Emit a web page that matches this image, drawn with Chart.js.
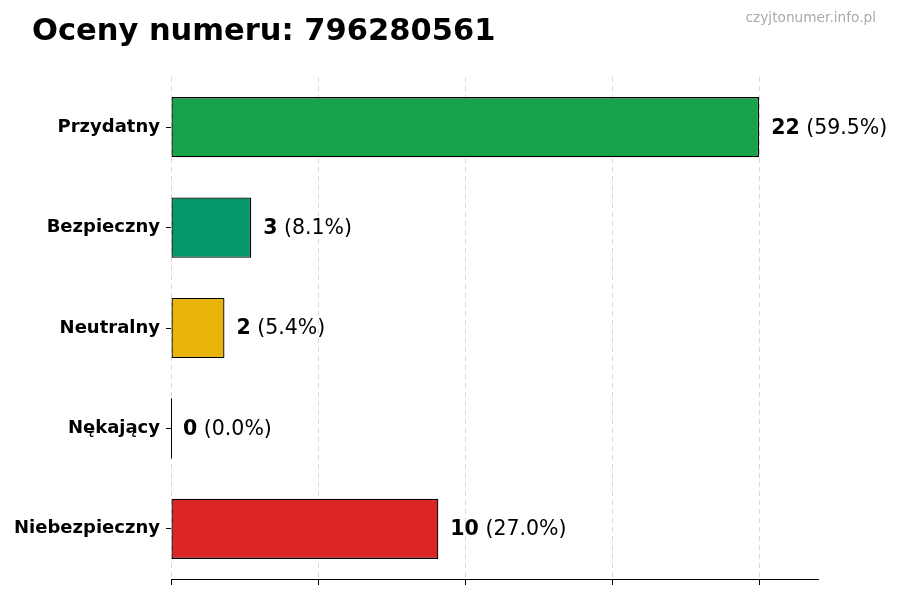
<!DOCTYPE html>
<html>
<head>
<meta charset="utf-8">
<script src="https://cdn.jsdelivr.net/npm/chart.js@4"></script>
<style>
  html, body { margin: 0; padding: 0; background: #fff; }
  #wrap { width: 900px; height: 600px; position: relative; }
</style>
</head>
<body>
<div id="wrap"><canvas id="ratingsChart"></canvas></div>
<script>
const categories = ['Przydatny', 'Bezpieczny', 'Neutralny', 'Nękający', 'Niebezpieczny'];
const counts = [22, 3, 2, 0, 10];
const barColors = ['#16a34a', '#059669', '#eab308', '#7c7c7c', '#dc2626'];
const titleText = 'Oceny numeru: 796280561';
const watermark = 'czyjtonumer.info.pl';

const FONT = '"DejaVu Sans", Verdana, sans-serif';
const total = counts.reduce((a, b) => a + b, 0);
const maxVal = Math.max(...counts);

// title, watermark, value labels and the zero-width bar edge
const annotate = {
    id: 'annotate',
    afterDatasetsDraw(chart) {
        const ctx = chart.ctx;
        ctx.save();
        ctx.fillStyle = '#000';
        ctx.textBaseline = 'alphabetic';
        ctx.font = 'bold 30.5px ' + FONT;
        ctx.textAlign = 'left';
        ctx.fillText(titleText, 32, 40);

        ctx.fillStyle = '#aaaaaa';
        ctx.font = '13.7px ' + FONT;
        ctx.textAlign = 'right';
        ctx.fillText(watermark, 876, 22);

        const meta = chart.getDatasetMeta(0);
        ctx.textAlign = 'left';
        ctx.textBaseline = 'middle';
        meta.data.forEach((bar, i) => {
            const { x, y, base, height } = bar.getProps(['x', 'y', 'base', 'height'], true);
            if (Math.abs(x - base) < 1) {
                ctx.strokeStyle = '#000';
                ctx.lineWidth = 1;
                ctx.beginPath();
                ctx.moveTo(Math.round(x) + 0.5, y - height / 2);
                ctx.lineTo(Math.round(x) + 0.5, y + height / 2);
                ctx.stroke();
            }
            const pct = total ? (counts[i] / total * 100).toFixed(1) : '0.0';
            const boldPart = String(counts[i]);
            const restPart = ' (' + pct + '%)';
            let tx = x + 12;
            ctx.fillStyle = '#000';
            ctx.font = 'bold 20.5px ' + FONT;
            ctx.fillText(boldPart, tx, y + 1);
            tx += ctx.measureText(boldPart).width;
            ctx.font = '20.5px ' + FONT;
            ctx.fillText(restPart, tx, y + 1);
        });
        ctx.restore();
    }
};

new Chart(document.getElementById('ratingsChart'), {
    type: 'bar',
    data: {
        labels: categories,
        datasets: [{
            data: counts,
            backgroundColor: barColors,
            borderColor: '#000',
            borderWidth: 1.3,
            borderSkipped: false,
            barPercentage: 0.6,
            categoryPercentage: 1.0
        }]
    },
    options: {
        indexAxis: 'y',
        responsive: true,
        maintainAspectRatio: false,
        animation: false,
        layout: { padding: { top: 77, right: 82, bottom: 15, left: 0 } },
        plugins: {
            legend: { display: false },
            tooltip: { enabled: false }
        },
        scales: {
            x: {
                min: 0,
                max: maxVal * 1.1,
                afterBuildTicks: scale => {
                    scale.ticks = [0, 0.25, 0.5, 0.75, 1].map(f => ({ value: f * maxVal }));
                },
                grid: {
                    color: '#d9d9d9',
                    tickColor: '#000',
                    tickLength: 6,
                    drawTicks: true
                },
                border: { display: true, color: '#000', width: 1, dash: [5, 4] },
                ticks: { display: false }
            },
            y: {
                afterFit: scale => { scale.width = 171; },
                grid: {
                    offset: false,
                    drawOnChartArea: false,
                    drawTicks: true,
                    tickLength: 5,
                    tickColor: '#000'
                },
                border: { display: false },
                ticks: {
                    color: '#000',
                    padding: 6,
                    font: { family: FONT, size: 18, weight: 'bold' }
                }
            }
        }
    },
    plugins: [annotate]
});
</script>
</body>
</html>
